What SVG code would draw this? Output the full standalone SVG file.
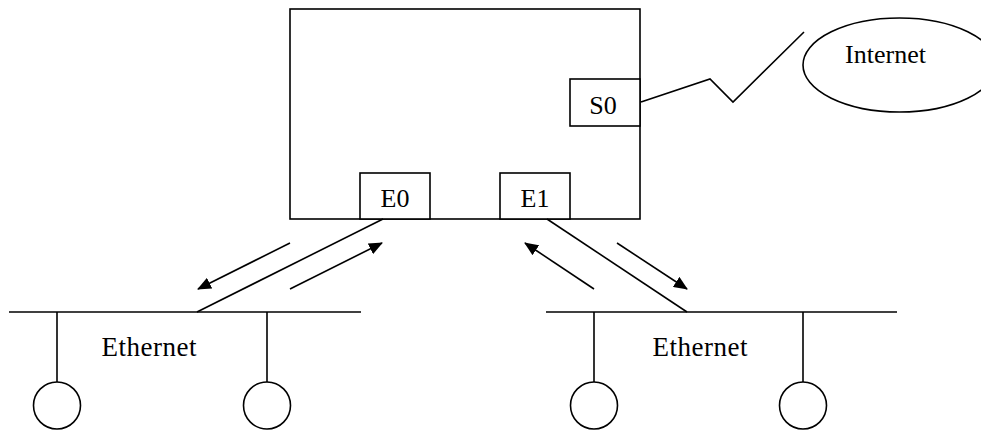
<svg xmlns="http://www.w3.org/2000/svg" width="981" height="430" viewBox="0 0 981 430">
<defs>
<marker id="ah" markerUnits="userSpaceOnUse" markerWidth="14" markerHeight="12" viewBox="0 0 14 12" refX="13" refY="6" orient="auto">
<path d="M0,0 L14,6 L0,12 Z" fill="#000"/>
</marker>
<style>
.s{fill:none;stroke:#000;stroke-width:1.6}
.b{fill:#fff;stroke:#000;stroke-width:1.6}
.t{font-family:"Liberation Serif","Times New Roman",serif;font-size:26px;fill:#000}
.e{font-size:27px}
.a{fill:none;stroke:#000;stroke-width:1.6;marker-end:url(#ah)}
</style>
</defs>
<rect width="981" height="430" fill="#fff"/>
<g id="router">
<rect class="b" x="290" y="9" width="350" height="210"/>
</g>
<g id="S0">
<rect class="b" x="570" y="79" width="70" height="47"/>
<text class="t" x="603" y="114" text-anchor="middle">S0</text>
</g>
<g id="E0">
<rect class="b" x="360" y="173" width="70" height="46"/>
<text class="t" x="395" y="207" text-anchor="middle">E0</text>
</g>
<g id="E1">
<rect class="b" x="500" y="173" width="70" height="46"/>
<text class="t" x="535" y="207" text-anchor="middle">E1</text>
</g>
<g id="internet">
<ellipse class="b" cx="899.5" cy="65" rx="96.5" ry="47"/>
<text class="t" x="885.5" y="63" text-anchor="middle">Internet</text>
</g>
<g id="ethernet-left">
<line class="s" x1="9" y1="312" x2="361" y2="312"/>
<line class="s" x1="57" y1="312" x2="57" y2="382"/>
<line class="s" x1="267" y1="312" x2="267" y2="382"/>
<circle class="b" cx="57" cy="405.5" r="23.5"/>
<circle class="b" cx="267" cy="405.5" r="23.5"/>
<text class="t e" x="149" y="356" text-anchor="middle" textLength="95">Ethernet</text>
</g>
<g id="ethernet-right">
<line class="s" x1="546" y1="312" x2="897" y2="312"/>
<line class="s" x1="594" y1="312" x2="594" y2="382"/>
<line class="s" x1="803" y1="312" x2="803" y2="382"/>
<circle class="b" cx="594" cy="405.5" r="23.5"/>
<circle class="b" cx="803" cy="405.5" r="23.5"/>
<text class="t e" x="700" y="356" text-anchor="middle" textLength="95">Ethernet</text>
</g>
<g id="connectors">
<polyline class="s" points="641,102 710,79 733,102 804,32"/>
<line class="s" x1="383" y1="219" x2="197" y2="312"/>
<line class="s" x1="547" y1="219" x2="687" y2="312"/>
<line class="a" x1="290" y1="243" x2="198" y2="289"/>
<line class="a" x1="290" y1="289" x2="382" y2="243"/>
<line class="a" x1="594" y1="289" x2="525" y2="243"/>
<line class="a" x1="617" y1="243" x2="687" y2="289"/>
</g>
</svg>
